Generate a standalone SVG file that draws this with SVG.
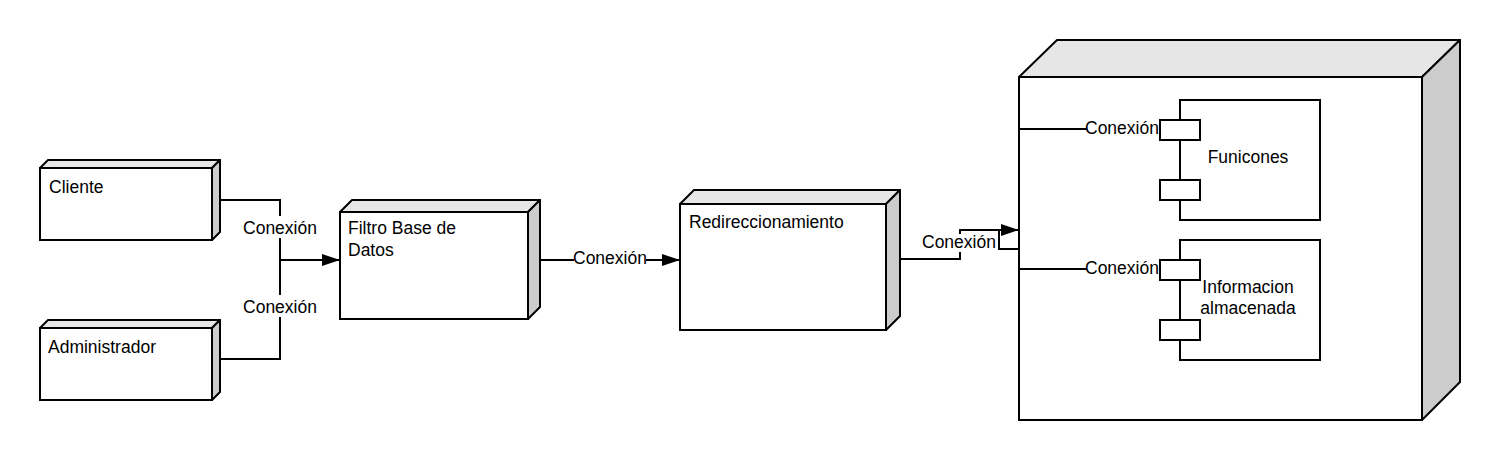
<svg xmlns="http://www.w3.org/2000/svg" width="1500" height="460" viewBox="0 0 1500 460">
<style>
text{font-family:"Liberation Sans",Arial,sans-serif;font-size:17.5px;fill:#000}
.front{fill:#fff;stroke:#000;stroke-width:2}
.top{fill:#e6e6e6;stroke:#000;stroke-width:2;stroke-linejoin:round}
.side{fill:#cccccc;stroke:#000;stroke-width:2;stroke-linejoin:round}
.comp{fill:#fff;stroke:#000;stroke-width:2}
.conn{fill:none;stroke:#000;stroke-width:2}
.lbl{fill:#fff;stroke:none}
.mid{text-anchor:middle}
</style>
<defs>
<marker id="arr" markerWidth="18" markerHeight="12" refX="18" refY="6" orient="auto" markerUnits="userSpaceOnUse">
<path d="M0,0 L18,6 L0,12 Z" fill="#000"/>
</marker>
</defs>
<rect width="1500" height="460" fill="#fff"/>

<g id="cliente">
<polygon class="top" points="40,168 48,160 220,160 212,168"/>
<polygon class="side" points="212,168 220,160 220,232 212,240"/>
<rect class="front" x="40" y="168" width="172" height="72"/>
<text x="49" y="193">Cliente</text>
</g>

<g id="administrador">
<polygon class="top" points="40,328 48,320 220,320 212,328"/>
<polygon class="side" points="212,328 220,320 220,392 212,400"/>
<rect class="front" x="40" y="328" width="172" height="72"/>
<text x="48" y="353">Administrador</text>
</g>

<g id="filtro">
<polygon class="top" points="340,212 352,200 540,200 528,212"/>
<polygon class="side" points="528,212 540,200 540,307 528,319"/>
<rect class="front" x="340" y="212" width="188" height="107"/>
<text x="348" y="234">Filtro Base de</text>
<text x="348" y="256">Datos</text>
</g>

<g id="redireccionamiento">
<polygon class="top" points="680,204 694,190 900,190 886,204"/>
<polygon class="side" points="886,204 900,190 900,316 886,330"/>
<rect class="front" x="680" y="204" width="206" height="126"/>
<text x="689" y="228">Redireccionamiento</text>
</g>

<g id="servidor">
<polygon class="top" points="1019,77 1057,40 1460,40 1422,77"/>
<polygon class="side" points="1422,77 1460,40 1460,382 1422,420"/>
<rect class="front" x="1019" y="77" width="403" height="343"/>
</g>

<g id="funicones">
<rect class="comp" x="1180" y="100" width="140" height="120"/>
<rect class="comp" x="1160" y="120" width="40" height="20"/>
<rect class="comp" x="1160" y="180" width="40" height="20"/>
<text class="mid" x="1248" y="163">Funicones</text>
</g>

<g id="informacion">
<rect class="comp" x="1180" y="240" width="140" height="120"/>
<rect class="comp" x="1160" y="260" width="40" height="20"/>
<rect class="comp" x="1160" y="320" width="40" height="20"/>
<text class="mid" x="1248" y="293">Informacion</text>
<text class="mid" x="1248" y="314">almacenada</text>
</g>

<g id="connectors">
<path class="conn" d="M220,200 H280 V260 H340" marker-end="url(#arr)"/>
<path class="conn" d="M220,359 H280 V260"/>
<rect class="lbl" x="241" y="216" width="78" height="22"/>
<text class="mid" x="280" y="234">Conexión</text>
<rect class="lbl" x="241" y="295" width="78" height="22"/>
<text class="mid" x="280" y="313">Conexión</text>

<path class="conn" d="M540,260 H680" marker-end="url(#arr)"/>
<rect class="lbl" x="574" y="248" width="72" height="22"/>
<text x="573" y="264">Conexión</text>

<path class="conn" d="M900,259 H960 V230 H1019" marker-end="url(#arr)"/>
<path class="conn" d="M999,230 V249 H1019"/>
<rect class="lbl" x="923" y="234" width="74" height="18"/>
<text x="922" y="248">Conexión</text>

<path class="conn" d="M1160,129 H1019 V269 H1160"/>
<rect class="lbl" x="1087" y="119" width="72" height="18"/>
<text x="1085" y="134">Conexión</text>
<rect class="lbl" x="1087" y="259" width="72" height="18"/>
<text x="1085" y="274">Conexión</text>
</g>
</svg>
